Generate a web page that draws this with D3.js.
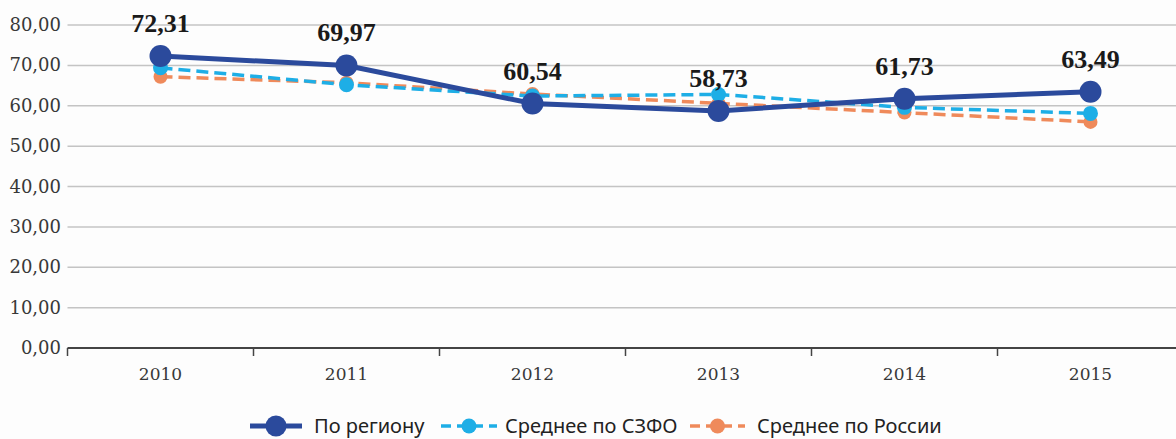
<!DOCTYPE html>
<html><head><meta charset="utf-8">
<script src="https://cdn.jsdelivr.net/npm/d3@7"></script>
<style>body{margin:0;background:#fdfdfd;}svg{display:block;}</style>
</head><body>
<svg id="c" width="1176" height="439"></svg>
<script>
const years = ["2010","2011","2012","2013","2014","2015"];
const region = [72.31, 69.97, 60.54, 58.73, 61.73, 63.49];
const szfo = [69.4, 65.2, 62.4, 62.8, 59.6, 58.1];
const russia = [67.2, 65.7, 62.9, 60.6, 58.3, 56.0];
const yTicks = [0,10,20,30,40,50,60,70,80];
const seriesNames = ["По региону", "Среднее по СЗФО", "Среднее по России"];

const svg = d3.select("#c");
const x = d3.scaleBand().domain(years).range([67.5, 67.5 + 186*6]);
const y = d3.scaleLinear().domain([0,80]).range([348, 25]);
const fmt = v => d3.format(".2f")(v).replace(".", ",");
const serif = "'DejaVu Serif', 'Liberation Serif', serif";

// grid
svg.append("g").selectAll("line").data(yTicks.filter(d=>d>0)).join("line")
  .attr("x1", 67.5).attr("x2", 1176).attr("y1", d=>y(d)).attr("y2", d=>y(d))
  .attr("stroke", "#c4c4c4").attr("stroke-width", 1.5);

// y labels
svg.append("g").selectAll("text").data(yTicks).join("text")
  .attr("x", 61).attr("y", d=>y(d)+6).attr("text-anchor","end")
  .attr("font-family", serif).attr("font-size", 18)
  .attr("fill","#383838").text(d=>fmt(d));

// x axis
const xa = svg.append("g").attr("transform","translate(0,348)");
xa.append("line").attr("x1",67.5).attr("x2",1176).attr("stroke","#444").attr("stroke-width",2);
xa.selectAll("line.t").data(years).join("line").attr("class","t")
  .attr("x1", d=>x(d)).attr("x2", d=>x(d)).attr("y1",0).attr("y2",8)
  .attr("stroke","#444").attr("stroke-width",1.5);
xa.selectAll("text").data(years).join("text")
  .attr("x", d=>x(d)+x.bandwidth()/2).attr("y", 32).attr("text-anchor","middle")
  .attr("font-family", serif).attr("font-size",17)
  .attr("fill","#383838").text(d=>d);

const cx = d => x(d) + x.bandwidth()/2;
const line = d3.line().x((d,i)=>cx(years[i])).y(d=>y(d));

const series = [
  {vals: russia, color:"#ef8a5b", w:3.5, dash:"12,6", r:7},
  {vals: szfo, color:"#1eaee6", w:3.5, dash:"12,6", r:7.5},
  {vals: region, color:"#2b4a9c", w:5, dash:null, r:11}
];
series.forEach(s=>{
  svg.append("path").datum(s.vals).attr("d", line).attr("fill","none")
    .attr("stroke", s.color).attr("stroke-width", s.w).attr("stroke-dasharray", s.dash);
  svg.append("g").selectAll("circle").data(s.vals).join("circle")
    .attr("cx",(d,i)=>cx(years[i])).attr("cy", d=>y(d)).attr("r", s.r).attr("fill", s.color);
});

// data labels
svg.append("g").selectAll("text").data(region).join("text")
  .attr("x",(d,i)=>cx(years[i])).attr("y", d=>y(d)-24).attr("text-anchor","middle")
  .attr("font-family","'Liberation Serif', serif").attr("font-weight","bold")
  .attr("font-size", 26).attr("fill","#1a1a1a").text(d=>fmt(d));

// legend
const leg = [
  {x1:250, x2:302, color:"#2b4a9c", w:5, dash:null, r:10.5, tx:314},
  {x1:441, x2:497, color:"#1eaee6", w:3.5, dash:"10,6", r:7.5, tx:505},
  {x1:690, x2:745, color:"#ef8a5b", w:3.5, dash:"10,6", r:7.5, tx:757}
];
leg.forEach((l,i)=>{
  const g = svg.append("g");
  g.append("line").attr("x1",l.x1).attr("x2",l.x2).attr("y1",426).attr("y2",426)
    .attr("stroke",l.color).attr("stroke-width",l.w).attr("stroke-dasharray",l.dash);
  g.append("circle").attr("cx",(l.x1+l.x2)/2).attr("cy",426).attr("r",l.r).attr("fill",l.color);
  g.append("text").attr("x",l.tx).attr("y",432.5)
    .attr("font-family","'Noto Sans', 'Open Sans', sans-serif")
    .attr("font-size",20).attr("fill","#222").text(seriesNames[i]);
});
</script>
</body></html>
